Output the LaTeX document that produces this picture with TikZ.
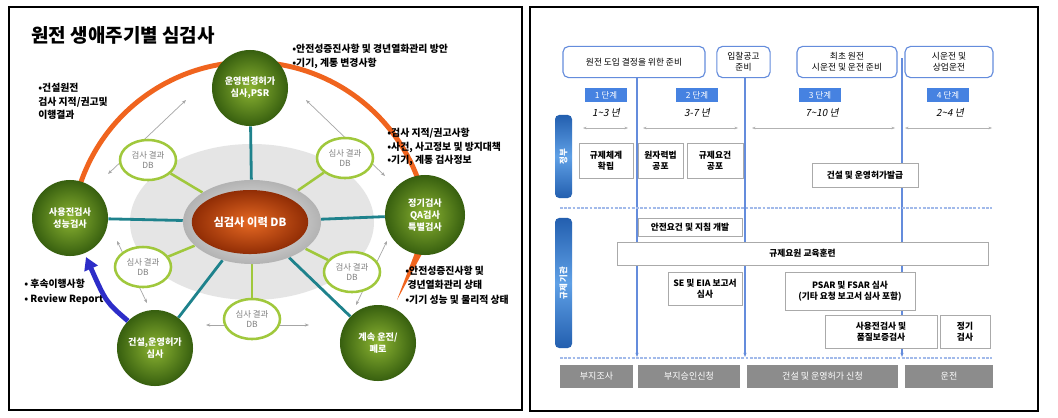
\documentclass[tikz,border=0pt]{standalone}
\usepackage{fontspec}
\setmainfont{Noto Sans CJK KR}
\newfontfamily\slantfont[FakeSlant=0.2]{Noto Sans CJK KR}
\usetikzlibrary{shapes.geometric,arrows.meta,backgrounds}

\definecolor{lifegreen}{RGB}{55,95,15}
\definecolor{lifegreenhi}{RGB}{140,180,50}
\definecolor{arcorange}{RGB}{240,100,30}
\definecolor{dbgreen}{RGB}{160,200,60}
\definecolor{linkteal}{RGB}{30,130,140}
\definecolor{reviewblue}{RGB}{45,45,200}
\definecolor{corehi}{RGB}{230,105,35}
\definecolor{corelo}{RGB}{145,45,5}
\definecolor{phaseblue}{RGB}{100,140,220}
\definecolor{stageblue}{RGB}{70,130,225}
\definecolor{pilldark}{RGB}{35,95,175}
\definecolor{pilllight}{RGB}{95,160,230}
\definecolor{boxgray}{RGB}{170,170,170}
\definecolor{bargray}{RGB}{140,140,140}

\tikzset{
  lifecircle/.style={circle,minimum size=1.9cm,inner sep=0pt,align=center,
    inner color=lifegreenhi,outer color=lifegreen,text=white,
    font=\fontsize{6.5}{8.5}\selectfont\bfseries},
  dbring/.style={ellipse,draw=dbgreen,line width=1.8pt,fill=white,
    minimum width=1.4cm,minimum height=1cm,inner sep=0pt,align=center,
    text=gray,font=\fontsize{6}{7.5}\selectfont},
  note/.style={anchor=north west,align=left,inner sep=0pt,
    font=\fontsize{7}{9.6}\selectfont\bfseries},
  tealline/.style={draw=linkteal,line width=2pt},
  dbline/.style={draw=dbgreen,line width=1.8pt},
  dbarrow/.style={draw=gray!70,line width=0.5pt,{Stealth[length=3pt]}-{Stealth[length=3pt]}},
  hdrbox/.style={draw=phaseblue,line width=0.8pt,rounded corners=4pt,fill=white,
    inner sep=0pt,align=center,minimum height=0.78cm,font=\fontsize{6.2}{8}\selectfont},
  stagebox/.style={fill=stageblue,text=white,inner sep=0pt,minimum width=1.05cm,
    minimum height=0.35cm,font=\fontsize{6}{7}\selectfont},
  yearlabel/.style={inner sep=0pt,font=\fontsize{7}{8}\selectfont\slantfont},
  spanarrow/.style={draw=gray!60,line width=0.4pt,{Stealth[length=2.5pt]}-{Stealth[length=2.5pt]}},
  taskbox/.style={draw=boxgray,line width=0.6pt,fill=white,inner sep=0pt,align=center,
    font=\fontsize{6.2}{8}\selectfont\bfseries},
  phasebar/.style={fill=bargray,text=white,inner sep=0pt,minimum height=0.575cm,
    font=\fontsize{6.4}{8}\selectfont},
  phaseline/.style={draw=phaseblue,line width=1pt,-{Stealth[length=3pt]}},
  rowsep/.style={draw=phaseblue!60,line width=0.8pt,dash pattern=on 2pt off 1pt},
  sidepill/.style={rounded corners=3pt,top color=pilldark,bottom color=pilldark,
    middle color=pilllight,minimum height=0.425cm,inner sep=0pt,rotate=90,
    text=white,font=\fontsize{6}{7}\selectfont\bfseries}
}

\begin{document}
\begin{tikzpicture}[x=0.025cm,y=-0.025cm]
\useasboundingbox (0,0) rectangle (1058,417);

% left panel
\node[font=\fontsize{13.5}{16}\selectfont\bfseries] (title) at (123,35) {원전 생애주기별 심검사};

\node[ellipse,minimum width=3.45cm,minimum height=2.1cm,inner color=gray!10,outer color=gray!60] (cring) at (252,222) {};
\node[ellipse,minimum width=2.7cm,minimum height=1.6cm,inner color=corehi,outer color=corelo,
  text=white,font=\fontsize{8}{10}\selectfont\bfseries] (cdb) at (250,222) {심검사 이력 DB};

\node[lifecircle] (psr) at (250,88) {운영변경허가\\심사,PSR};
\node[lifecircle] (preop) at (70,218) {사용전검사\\성능검사};
\node[lifecircle,minimum size=2cm] (periodic) at (425,215) {정기검사\\QA검사\\특별검사};
\node[lifecircle] (license) at (155,348) {건설,운영허가\\심사};
\node[lifecircle] (lto) at (378,343) {계속 운전/\\폐로};

\node[dbring] (dbtl) at (148,160) {검사 결과\\DB};
\node[dbring] (dbtr) at (345,158) {심사 결과\\DB};
\node[dbring] (dbll) at (143,267) {심사 결과\\DB};
\node[dbring] (dblr) at (352,272) {검사 결과\\DB};
\node[dbring] (dbb) at (252,319) {심사 결과\\DB};

\node[note] (n1) at (292,44) {•안전성증진사항 및 경년열화관리 방안\\•기기, 계통 변경사항};
\node[note] (n2) at (38,83) {•건설원전\\검사 지적/권고및\\이행결과};
\node[note] (n3) at (387,128) {•검사 지적/권고사항\\•사건, 사고정보 및 방지대책\\•기기, 계통 검사정보};
\node[note,font=\fontsize{7}{10.2}\selectfont\bfseries] (n4) at (405,266) {•안전성증진사항 및\\\ 경년열화관리 상태\\•기기 성능 및 물리적 상태};
\node[note,font=\fontsize{7}{10.6}\selectfont\bfseries] (n5) at (24,279) {• 후속이행사항\\• Review Report};

\coordinate (arcc) at (250,241);
\coordinate (revtip) at (86,257);
\coordinate (a1) at (186,100); \coordinate (a2) at (108,174);
\coordinate (a3) at (306,100); \coordinate (a4) at (385,176);
\coordinate (a5) at (117,241); \coordinate (a6) at (147,303);
\coordinate (a7) at (387,241); \coordinate (a8) at (356,305);
\coordinate (a9) at (206,325); \coordinate (a10) at (309,325);

% right panel
\node[hdrbox,minimum width=3.55cm] (hdr1) at (634,62) {원전 도입 결정을 위한 준비};
\node[hdrbox,minimum width=1.33cm] (hdr2) at (743.5,62) {입찰공고\\준비};
\node[hdrbox,minimum width=2.5cm] (hdr3) at (847,62) {최초 원전\\시운전 및 운전 준비};
\node[hdrbox,minimum width=2.2cm] (hdr4) at (949,62) {시운전 및\\상업운전};

\node[stagebox] (st1) at (606,95) {1 단계};
\node[stagebox] (st2) at (697,95) {2 단계};
\node[stagebox] (st3) at (820,95) {3 단계};
\node[stagebox] (st4) at (948,95) {4 단계};

\node[yearlabel] (yr1) at (606,113) {1\textasciitilde3 년};
\node[yearlabel] (yr2) at (697,113) {3-7 년};
\node[yearlabel] (yr3) at (822,113) {7\textasciitilde10 년};
\node[yearlabel] (yr4) at (950,113) {2\textasciitilde4 년};

\node[sidepill,minimum width=2.075cm] (gov) at (563.5,156.5) {정부};
\node[sidepill,minimum width=3.25cm] (reg) at (563.5,283) {규제 기관};

\node[taskbox,minimum width=1.35cm,minimum height=0.875cm] (t1) at (606,160.5) {규제체계\\확립};
\node[taskbox,minimum width=1.125cm,minimum height=0.875cm] (t2) at (660.5,160.5) {원자력법\\공포};
\node[taskbox,minimum width=1.4cm,minimum height=0.875cm] (t3) at (715,160.5) {규제요건\\공포};
\node[taskbox,minimum width=2.65cm,minimum height=0.6cm] (t4) at (865,175) {건설 및 운영허가발급};
\node[taskbox,minimum width=2.6cm,minimum height=0.45cm] (t5) at (690,227) {안전요건 및 지침 개발};
\node[taskbox,minimum width=9.275cm,minimum height=0.575cm] (t6) at (802.5,253.5) {규제요원 교육훈련};
\node[taskbox,minimum width=1.85cm,minimum height=0.825cm] (t7) at (705,288.5) {SE 및 EIA 보고서\\심사};
\node[taskbox,minimum width=3.25cm,minimum height=0.95cm] (t8) at (850,291) {PSAR 및 FSAR 심사\\(기타 요청 보고서 심사 포함)};
\node[taskbox,minimum width=2.8cm,minimum height=0.825cm] (t9) at (881,331.5) {사용전검사 및\\품질보증검사};
\node[taskbox,minimum width=1.25cm,minimum height=0.825cm] (t10) at (965,331.5) {정기\\검사};

\node[phasebar,minimum width=1.825cm] (b1) at (596.5,376.5) {부지조사};
\node[phasebar,minimum width=2.55cm] (b2) at (689,376.5) {부지승인신청};
\node[phasebar,minimum width=3.775cm] (b3) at (822.5,376.5) {건설 및 운영허가 신청};
\node[phasebar,minimum width=2.2cm] (b4) at (949,376.5) {운전};

\coordinate (v1bot) at (637,357);
\coordinate (v2bot) at (745,357);
\coordinate (v3top) at (902,58);
\coordinate (v3bot) at (902,357);
\coordinate (sp1a) at (583,128); \coordinate (sp1b) at (628,128);
\coordinate (sp2a) at (643,128); \coordinate (sp2b) at (738,128);
\coordinate (sp3a) at (752,128); \coordinate (sp3b) at (895,128);
\coordinate (sp4a) at (905,128); \coordinate (sp4b) at (992,128);

\begin{scope}[on background layer]
\fill[white] (0,0) rectangle (1058,417);
\fill[gray!20] (252,222) ellipse [x radius=122, y radius=78];
\draw[arcorange,line width=3.5pt] (arcc) ++(-172:179) arc[start angle=-172, end angle=-8, radius=179];
\fill[arcorange] (416,250) -- (423,252) -- (397,300) -- cycle;

\draw[tealline] (cring) -- (psr);
\draw[tealline] (cring) -- (preop);
\draw[tealline] (cring) -- (periodic);
\draw[tealline] (cring) -- (license);
\draw[tealline] (cring) -- (lto);

\draw[dbline] (dbtl) -- (cring);
\draw[dbline] (dbtr) -- (cring);
\draw[dbline] (dbll) -- (cring);
\draw[dbline] (dblr) -- (cring);
\draw[dbline] (dbb) -- (cring);

\draw[dbarrow] (a1) -- (a2);
\draw[dbarrow] (a3) -- (a4);
\draw[dbarrow] (a5) -- (a6);
\draw[dbarrow] (a7) -- (a8);
\draw[dbarrow] (a9) -- (a10);

\draw[phaseline] (hdr1.south -| v1bot) -- (v1bot);
\draw[phaseline] (hdr2.south -| v2bot) -- (v2bot);
\draw[phaseline] (v3top) -- (v3bot);
\end{scope}

\draw[reviewblue,line width=3.5pt,-{Triangle[length=9pt,width=10pt]}] (license.135) .. controls (106,302) .. (revtip);

\draw[spanarrow] (sp1a) -- (sp1b);
\draw[spanarrow] (sp2a) -- (sp2b);
\draw[spanarrow] (sp3a) -- (sp3b);
\draw[spanarrow] (sp4a) -- (sp4b);

\draw[rowsep] (560,208) -- (992,208);
\draw[rowsep] (560,358) -- (992,358);

\draw[line width=2pt] (9,7) rectangle (522,410);
\draw[line width=2pt] (530,7) rectangle (1038,411);
\end{tikzpicture}
\end{document}
